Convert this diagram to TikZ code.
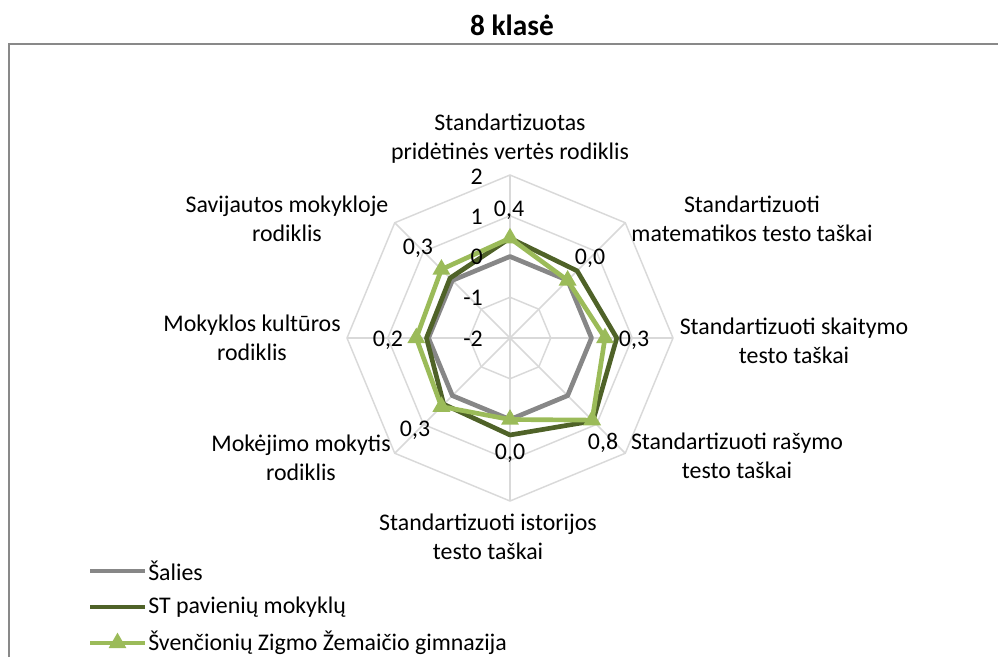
\documentclass[tikz,border=0pt]{standalone}
\usepackage{fontspec}
\setmainfont{Carlito}
\usetikzlibrary{positioning,shapes.geometric}

\definecolor{gridgray}{HTML}{D9D9D9}
\definecolor{framegray}{HTML}{898989}
\definecolor{saliesgray}{HTML}{878787}
\definecolor{stgreen}{HTML}{4F6228}
\definecolor{gimgreen}{HTML}{9BBB59}

\tikzset{
    chartfont/.style={font=\fontsize{17.9}{21.5}\selectfont},
    axislabel/.style={chartfont, align=center, inner sep=0pt},
    datalabel/.style={chartfont, inner sep=0pt},
    ticklabel/.style={chartfont, inner sep=0pt, anchor=east},
    series/.style={line width=3.5pt, line join=round},
    gimmark/.style={regular polygon, regular polygon sides=3, fill=gimgreen, draw=none, minimum size=15.5pt, inner sep=0pt}
}

\begin{document}
\begin{tikzpicture}[x=0.75pt, y=-0.75pt]
    \useasboundingbox (0,0) rectangle (998,657);

    % title and frame
    \node[font=\fontsize{22}{26}\selectfont\bfseries] (title) at (512,25) {8 klasė};
    \draw[framegray, line width=1.5pt] (9,657) -- (9,43.5) -- (998,43.5);

    % grid: rings at -1, 0, 1, 2 and spokes
    \begin{scope}[gridgray, line width=1.1pt]
        \foreach \r in {40.75,81.5,122.25,163} {
            \draw ({510},{338-\r})
                \foreach \a in {45,90,...,315} { -- ({510+\r*sin(\a)},{338-\r*cos(\a)}) } -- cycle;
        }
        \coordinate (c) at (510,338);
        \foreach \a [count=\k] in {0,45,...,315} {
            \coordinate (spoke\k) at ({510+163*sin(\a)},{338-163*cos(\a)});
            \draw (c) -- (spoke\k);
        }
    \end{scope}

    % axis labels
    \begin{scope}[every node/.style={axislabel}]
        \node (ax1) at (510,138.5) {Standartizuotas\\pridėtinės vertės rodiklis};
        \node (ax2) at (752,219) {Standartizuoti\\matematikos testo taškai};
        \node (ax3) at (794,340.5) {Standartizuoti skaitymo\\testo taškai};
        \node (ax4) at (737,456) {Standartizuoti rašymo\\testo taškai};
        \node (ax5) at (488,536.5) {Standartizuoti istorijos\\testo taškai};
        \node (ax6) at (301,458) {Mokėjimo mokytis\\rodiklis};
        \node (ax7) at (252,338) {Mokyklos kultūros\\rodiklis};
        \node (ax8) at (287,219) {Savijautos mokykloje\\rodiklis};
    \end{scope}

    % data points
    \foreach \v [count=\k] in {0,0,0,0,0,0,0,0}
        \coordinate (sal\k) at ({510+(81.5+40.75*\v)*sin(45*(\k-1))},{338-(81.5+40.75*\v)*cos(45*(\k-1))});
    \foreach \v [count=\k] in {0.45,0.33,0.62,0.88,0.38,0.3,0.05,0.08}
        \coordinate (st\k) at ({510+(81.5+40.75*\v)*sin(45*(\k-1))},{338-(81.5+40.75*\v)*cos(45*(\k-1))});
    \foreach \v [count=\k] in {0.45,0,0.33,0.85,0,0.38,0.3,0.38}
        \coordinate (gim\k) at ({510+(81.5+40.75*\v)*sin(45*(\k-1))},{338-(81.5+40.75*\v)*cos(45*(\k-1))});

    \draw[series, saliesgray] (sal1) -- (sal2) -- (sal3) -- (sal4) -- (sal5) -- (sal6) -- (sal7) -- (sal8) -- cycle;
    \draw[series, stgreen] (st1) -- (st2) -- (st3) -- (st4) -- (st5) -- (st6) -- (st7) -- (st8) -- cycle;
    \draw[series, gimgreen] (gim1) -- (gim2) -- (gim3) -- (gim4) -- (gim5) -- (gim6) -- (gim7) -- (gim8) -- cycle;
    \foreach \k in {1,...,8}
        \node[gimmark] (gm\k) at (gim\k) {};

    % tick labels
    \node[ticklabel] (t2) at (483,177) {2};
    \node[ticklabel] (t1) at (483,217) {1};
    \node[ticklabel] (t0) at (483,257) {0};
    \node[ticklabel] (tm1) at (483,298) {-1};
    \node[ticklabel] (tm2) at (483,339) {-2};

    % data labels
    \begin{scope}[every node/.style={datalabel}]
        \node (d1) at (509,210) {0,4};
        \node (d2) at (590,258) {0,0};
        \node (d3) at (634,340) {0,3};
        \node (d4) at (603,443) {0,8};
        \node (d5) at (510,453) {0,0};
        \node (d6) at (415,430) {0,3};
        \node (d7) at (388,340) {0,2};
        \node (d8) at (418,248) {0,3};
    \end{scope}

    % legend
    \coordinate (la1) at (90,571);  \coordinate (lb1) at (145,571);
    \coordinate (la2) at (90,607);  \coordinate (lb2) at (145,607);
    \coordinate (la3) at (90,643);  \coordinate (lb3) at (145,643);
    \path[series, saliesgray] (la1) edge (lb1);
    \path[series, stgreen] (la2) edge (lb2);
    \path[series, gimgreen] (la3) edge (lb3);
    \node[gimmark] (lm3) at (117.5,643) {};
    \begin{scope}[every node/.style={datalabel, anchor=west}]
        \node (l1) at (148,571) {Šalies};
        \node (l2) at (148,607) {ST pavienių mokyklų};
        \node (l3) at (148,643) {Švenčionių Zigmo Žemaičio gimnazija};
    \end{scope}
\end{tikzpicture}
\end{document}
